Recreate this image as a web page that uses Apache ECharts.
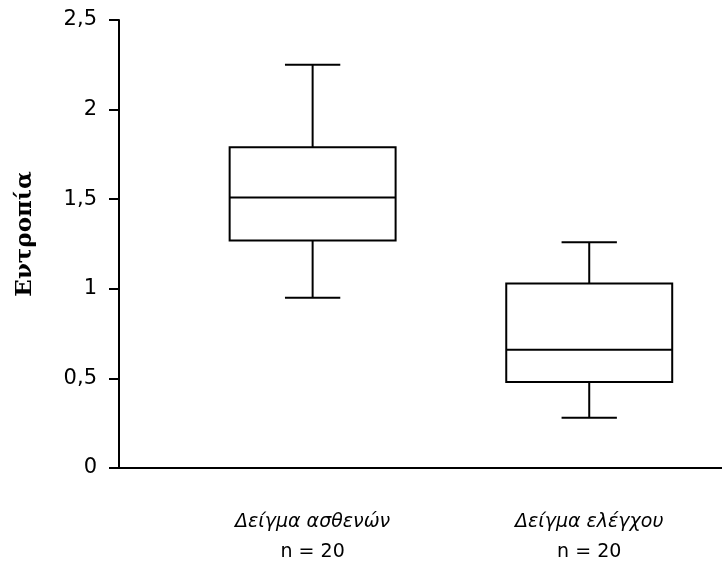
<!DOCTYPE html>
<html>
<head>
<meta charset="utf-8">
<script src="https://cdn.jsdelivr.net/npm/echarts@6/dist/echarts.min.js"></script>
<style>
  html, body { margin: 0; padding: 0; background: #fff; }
  #chart { width: 722px; height: 564px; }
</style>
</head>
<body>
<div id="chart"></div>
<script>
// Group labels and box-and-whisker statistics (entropy)
const groups = ['Δείγμα ασθενών', 'Δείγμα ελέγχου'];
const groupSizes = [20, 20];
const groupPositions = [1, 2];
const whiskerLow = [0.95, 0.28];
const quartile1 = [1.27, 0.48];
const medians = [1.51, 0.66];
const quartile3 = [1.79, 1.03];
const whiskerHigh = [2.25, 1.26];
const yTicks = [0, 0.5, 1, 1.5, 2, 2.5];

const BOX_W = 0.6;   // box width in x-axis units
const CAP_W = 0.2;   // whisker cap width in x-axis units

const rows = groups.map((g, i) => [
  groupPositions[i], whiskerLow[i], quartile1[i], medians[i], quartile3[i], whiskerHigh[i]
]);

const chart = echarts.init(document.getElementById('chart'), null, { renderer: 'canvas' });

const lineStyle = { stroke: '#000', lineWidth: 2, fill: null };

function renderBox(params, api) {
  const x = api.value(0);
  const pLow = api.coord([x, api.value(1)]);
  const pQ1 = api.coord([x, api.value(2)]);
  const pMed = api.coord([x, api.value(3)]);
  const pQ3 = api.coord([x, api.value(4)]);
  const pHigh = api.coord([x, api.value(5)]);
  const boxHalf = api.size([BOX_W, 0])[0] / 2;
  const capHalf = api.size([CAP_W, 0])[0] / 2;
  const cx = pMed[0];
  const line = (x1, y1, x2, y2) => ({
    type: 'line', shape: { x1, y1, x2, y2 }, style: lineStyle
  });
  return {
    type: 'group',
    children: [
      { type: 'rect',
        shape: { x: cx - boxHalf, y: pQ3[1], width: boxHalf * 2, height: pQ1[1] - pQ3[1] },
        style: { stroke: '#000', lineWidth: 2, fill: '#fff' } },
      line(cx - boxHalf, pMed[1], cx + boxHalf, pMed[1]),
      line(cx, pQ3[1], cx, pHigh[1]),
      line(cx, pQ1[1], cx, pLow[1]),
      line(cx - capHalf, pHigh[1], cx + capHalf, pHigh[1]),
      line(cx - capHalf, pLow[1], cx + capHalf, pLow[1])
    ]
  };
}

chart.setOption({
  backgroundColor: '#fff',
  animation: false,
  grid: { left: 119, right: 0, top: 20, bottom: 96, containLabel: false },
  xAxis: {
    type: 'value',
    min: 0.3,
    max: 2.48,
    splitLine: { show: false },
    axisLine: { show: true, onZero: false, lineStyle: { color: '#000', width: 2 } },
    axisTick: { show: false },
    axisLabel: {
      customValues: groupPositions,
      margin: 39,
      formatter: (v) => {
        const i = groupPositions.indexOf(v);
        return i < 0 ? '' : '{a|' + groups[i] + '}\n{b|n = ' + groupSizes[i] + '}';
      },
      rich: {
        a: { fontFamily: 'DejaVu Sans', fontStyle: 'italic', fontSize: 19, lineHeight: 30, color: '#000' },
        b: { fontFamily: 'DejaVu Sans', fontSize: 19, lineHeight: 30, color: '#000' }
      }
    }
  },
  yAxis: {
    type: 'value',
    min: 0,
    max: 2.5,
    interval: 0.5,
    name: 'Εντροπία',
    nameLocation: 'middle',
    nameRotate: 90,
    nameGap: 82,
    nameTextStyle: {
      fontFamily: 'DejaVu Serif', fontWeight: 'bold', fontSize: 23, color: '#000',
      padding: [0, 0, 0, 20]
    },
    splitLine: { show: false },
    axisLine: { show: true, lineStyle: { color: '#000', width: 2 } },
    axisTick: { show: true, length: 10, lineStyle: { color: '#000', width: 2 } },
    axisLabel: {
      margin: 22,
      fontFamily: 'DejaVu Sans',
      fontSize: 21,
      color: '#000',
      formatter: (v) => String(v).replace('.', ',')
    }
  },
  series: [{
    type: 'custom',
    renderItem: renderBox,
    data: rows,
    encode: { x: 0, y: [1, 2, 3, 4, 5] },
    clip: false
  }]
});
</script>
</body>
</html>
